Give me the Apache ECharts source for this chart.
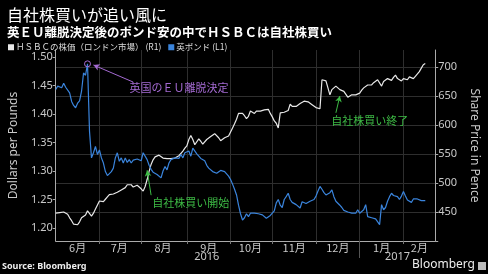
<!DOCTYPE html>
<html>
<head>
<meta charset="utf-8">
<script src="https://cdn.jsdelivr.net/npm/echarts@6/dist/echarts.min.js"></script>
<style>
html,body{margin:0;padding:0;background:#000;}
#c{width:488px;height:274px;}
</style>
</head>
<body>
<div id="c"></div>
<script>
// ---- data ----
const startDate = '2016-06-01';
const endDate = '2017-02-23';
const monthLabels = ['6月','7月','8月','9月','10月','11月','12月','1月','2月'];
const yearLabels = ['2016','2017'];
const leftTicks = [1.20,1.25,1.30,1.35,1.40,1.45,1.50];
const rightTicks = [450,500,550,600,650,700];

// GBP/USD, one value per trading day from 2016-06-01
const pound = [
1.443,1.449,1.447,1.446,1.454,1.447,1.450,1.437,1.422,1.415,
1.411,1.419,1.423,1.440,1.472,1.468,1.488,1.370,1.323,1.332,
1.343,1.329,1.337,1.323,1.314,1.299,1.292,1.291,1.299,1.305,
1.323,1.332,1.317,1.323,1.314,1.323,1.315,1.320,1.314,1.319,
1.317,1.321,1.323,1.318,1.332,1.330,1.320,1.310,1.303,1.298,
1.296,1.294,1.292,1.288,1.300,1.308,1.302,1.314,1.320,1.317,
1.323,1.320,1.322,1.329,1.323,1.332,1.333,1.335,1.326,1.340,
1.341,1.330,1.326,1.322,1.321,1.318,1.310,1.305,1.302,1.299,
1.301,1.296,1.299,1.301,1.302,1.299,1.295,1.291,1.285,1.277,
1.268,1.258,1.240,1.225,1.214,1.218,1.225,1.220,1.226,1.229,
1.226,1.228,1.225,1.224,1.223,1.221,1.217,1.216,1.222,1.226,
1.230,1.244,1.250,1.240,1.236,1.250,1.255,1.261,1.250,1.245,
1.244,1.241,1.238,1.235,1.246,1.244,1.243,1.245,1.247,1.249,
1.250,1.256,1.265,1.273,1.268,1.262,1.258,1.256,1.262,1.267,
1.255,1.247,1.245,1.240,1.236,1.231,1.229,1.228,1.229,1.226,
1.224,1.226,1.232,1.226,1.223,1.232,1.241,1.220,1.220,1.218,
1.220,1.216,1.214,1.206,1.241,1.232,1.236,1.247,1.255,1.261,
1.257,1.258,1.255,1.250,1.256,1.264,1.256,1.249,1.247,1.245,
1.251,1.249,1.251,1.252,1.248,1.246,1.248
];
// HSBC share price (pence), one value per trading day from 2016-06-01
const hsbc = [
448,448,449,450,450,448,446,440,435,429,
427,428,433,440,443,445,452,449,443,448,
455,462,469,466,468,472,476,480,478,481,
483,484,485,488,490,492,497,494,497,493,
495,496,497,490,486,494,506,520,532,540,
545,547,548,545,543,544,542,540,542,543,
543,545,547,549,555,560,564,575,582,575,
566,569,576,572,567,570,575,574,580,577,
585,583,578,573,576,578,577,581,588,595,
602,610,620,623,620,616,611,615,624,625,
620,624,626,624,626,626,624,627,620,614,
607,603,595,621,623,622,620,625,636,632,
635,632,630,637,639,641,643,640,637,635,
633,630,627,628,678,678,676,674,652,661,
659,667,669,661,659,658,655,648,650,652,
653,652,649,655,660,664,665,669,667,669,
673,675,678,680,667,675,677,680,682,677,
682,686,680,678,676,680,681,678,683,686,
680,684,686,692,698,704,706
];

// ---- trading-day categories (weekdays) ----
const days = [];
(function(){
  const d = new Date(startDate + 'T00:00:00Z');
  const e = new Date(endDate + 'T00:00:00Z');
  while (d <= e) {
    const w = d.getUTCDay();
    if (w !== 0 && w !== 6) days.push(d.toISOString().slice(0,10));
    d.setUTCDate(d.getUTCDate() + 1);
  }
})();
const monthStart = new Set(), monthMid = {}, yearStart = new Set(), yearMid = {};
(function(){
  const groups = [], ygroups = [];
  days.forEach((s,i)=>{
    const m = s.slice(0,7), y = s.slice(0,4);
    if (!groups.length || groups[groups.length-1].k !== m) groups.push({k:m,a:i,b:i}); else groups[groups.length-1].b = i;
    if (!ygroups.length || ygroups[ygroups.length-1].k !== y) ygroups.push({k:y,a:i,b:i}); else ygroups[ygroups.length-1].b = i;
  });
  groups.forEach((g,j)=>{ if (g.a>0) monthStart.add(g.a); monthMid[Math.round((g.a+g.b)/2)] = monthLabels[j]; });
  ygroups.forEach((g,j)=>{ if (g.a>0) yearStart.add(g.a); yearMid[Math.round((g.a+g.b)/2)] = yearLabels[j]; });
})();

const FONT = '"Noto Sans", "Noto Sans CJK JP", sans-serif';
const JP = '"Noto Sans CJK JP", sans-serif';
const purple = '#a46ad2';
const green = '#3dbb45';
const axisTxt = '#c8c8c8';

const chart = echarts.init(document.getElementById('c'), null, {renderer:'canvas'});
chart.setOption({
  backgroundColor:'#000',
  animation:false,
  title:[
    {text:'自社株買いが追い風に', left:2, top:2, textStyle:{color:'#fff', fontSize:16, fontWeight:'normal', fontFamily:JP}},
    {text:'英ＥＵ離脱決定後のポンド安の中でＨＳＢＣは自社株買い', left:2, top:21, textStyle:{color:'#fff', fontSize:12.5, fontWeight:'bold', fontFamily:JP}}
  ],
  legend:{
    left:3, top:38, icon:'rect', itemWidth:6, itemHeight:6, itemGap:7,
    textStyle:{color:'#ddd', fontSize:8.5, fontFamily:JP, padding:[0,0,0,-3]},
    data:['ＨＳＢＣの株価（ロンドン市場） (R1)','英ポンド (L1)']
  },
  grid:{left:35, right:33, top:50, bottom:33},
  xAxis:[{
    type:'category', data:days, boundaryGap:false,
    axisLine:{lineStyle:{color:'#aaa', width:1}},
    axisTick:{show:true, interval:(i)=>monthStart.has(i), length:3, lineStyle:{color:'#777'}},
    axisLabel:{interval:(i)=>monthMid[i]!==undefined, formatter:(v,i)=>monthMid[i]||'', color:axisTxt, fontSize:11, margin:1, fontFamily:JP},
    splitLine:{show:true, interval:(i)=>monthStart.has(i), lineStyle:{color:'#2e2e2e', width:1}}
  },{
    type:'category', data:days, boundaryGap:false, position:'bottom',
    axisLine:{show:false},
    axisTick:{show:true, interval:(i)=>yearStart.has(i), length:17, lineStyle:{color:'#555'}},
    axisLabel:{interval:(i)=>yearMid[i]!==undefined, formatter:(v,i)=>yearMid[i]||'', color:axisTxt, fontSize:11, margin:10, fontFamily:FONT},
    splitLine:{show:false}
  }],
  yAxis:[{
    type:'value', position:'left', min:1.1772, max:1.5123,
    name:'Dollars per Pounds', nameLocation:'middle', nameGap:21, nameRotate:90,
    nameTextStyle:{color:axisTxt, fontSize:12, fontFamily:FONT},
    axisLine:{show:true, lineStyle:{color:'#aaa'}},
    axisTick:{show:true, length:3, customValues:leftTicks, lineStyle:{color:'#aaa'}},
    axisLabel:{customValues:leftTicks, formatter:(v)=>v.toFixed(2), color:axisTxt, fontSize:11, margin:3, fontFamily:FONT},
    splitLine:{show:false}
  },{
    type:'value', position:'right', min:400, max:729.3, interval:50,
    name:'Share Price in Pence', nameLocation:'middle', nameGap:19, nameRotate:-90,
    nameTextStyle:{color:axisTxt, fontSize:12, fontFamily:FONT},
    axisLine:{show:true, lineStyle:{color:'#aaa'}},
    axisTick:{show:true, length:3, customValues:[400].concat(rightTicks), lineStyle:{color:'#aaa'}},
    axisLabel:{customValues:rightTicks, color:axisTxt, fontSize:11, margin:3, fontFamily:FONT},
    splitLine:{show:true, lineStyle:{color:'#2e2e2e', width:1}}
  }],
  series:[{
    name:'ＨＳＢＣの株価（ロンドン市場） (R1)', type:'line', xAxisIndex:0, yAxisIndex:1,
    data:hsbc, symbol:'none', color:'#e8e8e8', lineStyle:{width:1.2, color:'#e8e8e8'},
    markLine:{
      silent:true, symbol:['none','arrow'], symbolSize:[5,6], label:{show:false},
      lineStyle:{color:green, width:1, type:'solid'},
      data:[
        [{coord:[48,479]},{coord:[46,522]}],
        [{coord:[141,621]},{coord:[143,650]}]
      ]
    },
    markPoint:{
      silent:true, symbol:'circle', symbolSize:0,
      label:{show:true, position:'inside', color:green, fontSize:11, fontFamily:JP},
      data:[
        {coord:[68,465.5], value:'自社株買い開始', label:{formatter:'自社株買い開始'}},
        {coord:[158,607], value:'自社株買い終了', label:{formatter:'自社株買い終了'}}
      ]
    }
  },{
    name:'英ポンド (L1)', type:'line', xAxisIndex:0, yAxisIndex:0,
    data:pound, symbol:'none', color:'#3a84dc', lineStyle:{width:1.2, color:'#3a84dc'},
    markLine:{
      silent:true, symbol:['none','arrow'], symbolSize:[5,6], label:{show:false},
      lineStyle:{color:purple, width:1, type:'solid'},
      data:[[{coord:[39,1.456]},{coord:[19,1.486]}]]
    },
    markPoint:{
      silent:true,
      data:[
        {coord:[16,1.488], symbol:'circle', symbolSize:6, itemStyle:{color:'rgba(0,0,0,0)', borderColor:purple, borderWidth:1}, label:{show:false}},
        {coord:[62,1.4456], symbol:'circle', symbolSize:0, label:{show:true, position:'inside', formatter:'英国のＥＵ離脱決定', color:purple, fontSize:11, fontFamily:JP}}
      ]
    }
  }],
  graphic:[
    {type:'text', left:2, top:262, style:{text:'Source: Bloomberg', fill:'#eee', font:'bold 9px "Noto Sans", sans-serif'}},
    {type:'text', right:13, top:259, style:{text:'Bloomberg', fill:'#eee', font:'12px "Noto Sans", sans-serif'}},
    {type:'rect', right:2, top:262, shape:{width:8, height:8}, style:{fill:'#bbb'}}
  ]
});
</script>
</body>
</html>
